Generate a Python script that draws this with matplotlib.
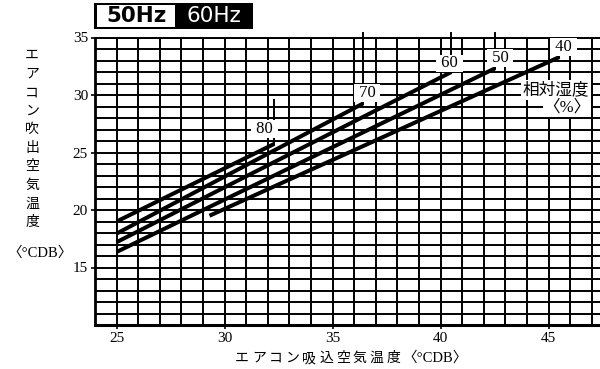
import matplotlib
matplotlib.use("Agg")
import matplotlib.pyplot as plt
from matplotlib.patches import Rectangle

# Relative-humidity lines: inlet air temperature (x) -> outlet air temperature (y)
rh_levels = [80, 70, 60, 50, 40]
inlet_start = [25.0, 25.0, 25.0, 25.0, 29.3]
inlet_end = [32.3, 36.4, 40.5, 42.5, 45.5]
outlet_start = [19.0, 17.95, 17.2, 16.35, 19.5]
outlet_end = [25.75, 29.25, 32.0, 32.3, 33.3]

# Where each humidity value is written
label_x = [31.85, 36.6, 40.4, 42.75, 45.7]
label_y = [27.05, 30.15, 32.75, 33.2, 34.2]
leader_top = [29.6, 35.4, 35.4, 35.4, 35.0]

x_ticks = [25, 30, 35, 40, 45]
y_ticks = [15, 20, 25, 30, 35]

W, H = 600, 369


def fx(px):
    return px / W


def fy(py):
    return 1 - py / H


fig = plt.figure(figsize=(W / 100, H / 100), dpi=100)
ax = fig.add_axes([fx(95), fy(325), 505 / W, (325 - 37.5) / H])
ax.set_xlim(24, 24 + 505 / 21.6)
ax.set_ylim(10, 35)

ax.set_xticks(x_ticks)
ax.set_yticks(y_ticks)
ax.set_xticks(range(24, 48), minor=True)
ax.set_yticks(range(10, 36), minor=True)
ax.set_axisbelow(True)
ax.grid(which="both", color="black", lw=1.4)
ax.tick_params(which="minor", length=0)
ax.tick_params(which="major", direction="out", length=3, width=1.2,
               color="black", pad=2)
for lab in ax.get_xticklabels() + ax.get_yticklabels():
    lab.set_family("Liberation Serif")
    lab.set_fontsize(11)

ax.spines["left"].set_linewidth(2.0)
ax.spines["bottom"].set_linewidth(2.2)
ax.spines["top"].set_linewidth(1.4)
ax.spines["right"].set_visible(False)

# Humidity lines
for xs, xe, ys, ye in zip(inlet_start, inlet_end, outlet_start, outlet_end):
    ax.plot([xs, xe], [ys, ye], color="black", lw=2.9,
            solid_capstyle="butt", zorder=3)

# Leaders and values
for rh, xe, ye, lx, ly, lt in zip(rh_levels, inlet_end, outlet_end,
                                  label_x, label_y, leader_top):
    ax.plot([xe, xe], [ye, lt], color="black", lw=1.4, zorder=2,
            clip_on=False)
    ax.text(lx, ly, f" {rh} ", ha="center", va="center", fontsize=12,
            family="Liberation Serif", zorder=5,
            bbox=dict(boxstyle="square,pad=0.05", fc="white", ec="none"))

cjk = ["Noto Sans CJK JP", "DejaVu Sans"]
serif_cjk = ["Liberation Serif", "Noto Sans CJK JP"]

fig.text(fx(556), fy(90), "相対湿度", ha="center", va="center",
         fontsize=12, family=cjk, zorder=6,
         bbox=dict(fc="white", ec="none", pad=1.0))
fig.text(fx(567), fy(108), "〈%〉", ha="center", va="center",
         fontsize=12, family=serif_cjk, zorder=6,
         bbox=dict(fc="white", ec="none", pad=0.5))

# Y axis title, written vertically
ytitle = "エアコン吹出空気温度"
for i, ch in enumerate(ytitle):
    fig.text(fx(32), fy(55 + 18.55 * i), ch, ha="center", va="center",
             fontsize=10, family=cjk)
fig.text(fx(40), fy(253), "〈°CDB〉", ha="center", va="center",
         fontsize=10.5, family=serif_cjk)

# X axis title
xtitle = "エアコン吸込空気温度"
for i, ch in enumerate(xtitle):
    fig.text(fx(242 + 16.8 * i), fy(358), ch, ha="center", va="center",
             fontsize=10, family=cjk)
fig.text(fx(402), fy(358), "〈°CDB〉", ha="left", va="center",
         fontsize=10.5, family=serif_cjk)

# Frequency badge
fig.add_artist(Rectangle((fx(94), fy(28.5)), (253 - 94) / W, 25.5 / H,
                         transform=fig.transFigure, fc="black", ec="none"))
fig.add_artist(Rectangle((fx(97), fy(26.5)), (175 - 97) / W, 21.5 / H,
                         transform=fig.transFigure, fc="white", ec="none"))
fig.text(fx(136), fy(16), "50Hz", ha="center", va="center", fontsize=15.5,
         fontweight="bold", family="DejaVu Sans", color="black")
fig.text(fx(214), fy(16), "60Hz", ha="center", va="center", fontsize=15.5,
         family="DejaVu Sans", color="white")

fig.savefig("out.png", dpi=100, facecolor="white")
